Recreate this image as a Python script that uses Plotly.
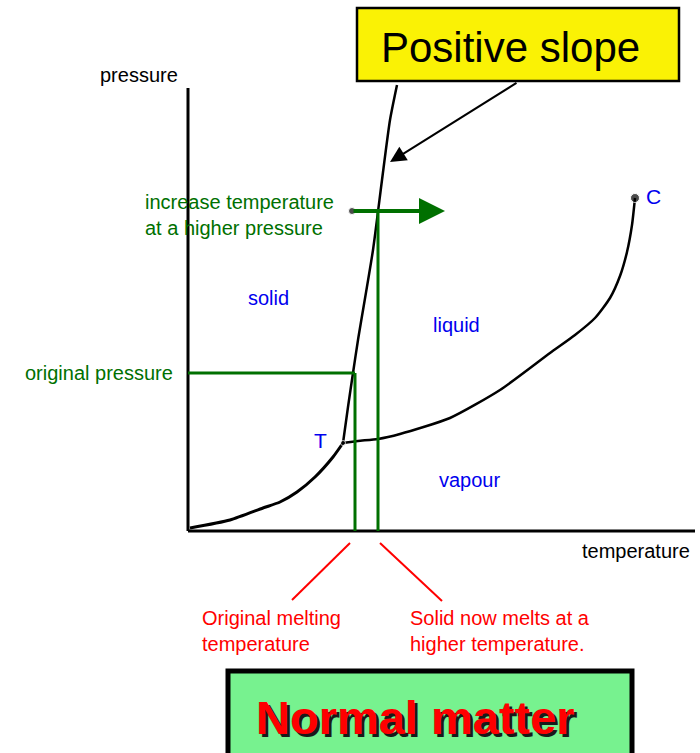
import plotly.graph_objects as go

# ---- data (arbitrary temperature / pressure units, origin at axis corner) ----
sub_T = [2, 42, 75, 92, 109, 127, 145, 155]
sub_P = [3, 11, 23, 29, 39, 54, 74, 88]

melt_T = [155, 160, 165, 170, 185, 194, 202, 209]
melt_P = [88, 124, 158, 191, 281, 351, 411, 446]

vap_T = [155, 170, 190, 212, 262, 312, 362, 387, 407, 422, 432, 439, 444, 447]
vap_P = [88, 90, 92, 97, 113, 141, 178, 196, 213, 233, 255, 279, 306, 333]

triple_point = (155, 88)
critical_point = (447, 333)

orig_pressure = 158
orig_melt_T = 167
high_pressure = 320
new_melt_T = 190
heat_start_T = 164
heat_end_T = 257

axis_T_max = 507
axis_P_max = 443

region_labels = ["solid", "liquid", "vapour"]
region_T = [80, 268, 281]
region_P = [233, 206, 51]

FONT = "Liberation Sans, Arial, sans-serif"
BLACK = "#000000"
GREEN = "#007000"
BLUE = "#0000ee"
RED = "#ff0000"

fig = go.Figure()

def line(x, y, color, width, spline=False):
    fig.add_trace(go.Scatter(x=x, y=y, mode="lines",
                             line=dict(color=color, width=width,
                                       shape="spline" if spline else "linear",
                                       smoothing=0.6 if spline else None),
                             hoverinfo="skip", showlegend=False))

# axes
line([0, 0], [0, axis_P_max], BLACK, 3)
line([0, axis_T_max], [0, 0], BLACK, 3)

# phase boundaries
line(sub_T, sub_P, BLACK, 3, spline=True)
line(melt_T, melt_P, BLACK, 2.5, spline=True)
line(vap_T, vap_P, BLACK, 2.5, spline=True)

# green guide lines
line([0, orig_melt_T], [orig_pressure, orig_pressure], GREEN, 3)
line([orig_melt_T, orig_melt_T], [0, orig_pressure], GREEN, 3)
line([new_melt_T, new_melt_T], [0, high_pressure], GREEN, 3)

# red pointer lines
line([162, 104], [-12, -69], RED, 2)
line([192, 254], [-12, -70], RED, 2)

# dots
fig.add_trace(go.Scatter(x=[critical_point[0], heat_start_T, triple_point[0]],
                         y=[critical_point[1], high_pressure, triple_point[1]],
                         mode="markers",
                         marker=dict(color=BLACK, size=[9, 7, 5]),
                         hoverinfo="skip", showlegend=False))

# green heating arrow
fig.add_annotation(x=heat_end_T, y=high_pressure, ax=heat_start_T, ay=high_pressure,
                   xref="x", yref="y", axref="x", ayref="y", text="",
                   showarrow=True, arrowhead=2, arrowwidth=4, arrowsize=1.3,
                   arrowcolor=GREEN)

# black pointer arrow from the callout box
fig.add_annotation(x=202, y=369, ax=330, ay=449,
                   xref="x", yref="y", axref="x", ayref="y", text="",
                   showarrow=True, arrowhead=2, arrowwidth=2, arrowsize=1.6,
                   arrowcolor=BLACK)

# boxes
fig.add_shape(type="rect", x0=169, x1=491, y0=450, y1=523, xref="x", yref="y",
              fillcolor="#faf205", line=dict(color=BLACK, width=2.5), layer="above")
fig.add_shape(type="rect", x0=40, x1=444, y0=-235, y1=-140, xref="x", yref="y",
              fillcolor="#77f28f", line=dict(color=BLACK, width=5), layer="above")

def text(x, y, s, color, size, xanchor="center", align="center"):
    fig.add_annotation(x=x, y=y, text=s, showarrow=False, xref="x", yref="y",
                       xanchor=xanchor, yanchor="middle", align=align,
                       font=dict(family=FONT, size=size, color=color))

# axis labels
text(-8, 456, "pressure", BLACK, 20, xanchor="right")
text(392, -20, "temperature", BLACK, 20, xanchor="left")

# region labels
for lab, tx, py in zip(region_labels, region_T, region_P):
    text(tx, py, lab, BLUE, 20)
text(132, 91, "T", BLUE, 21)
text(465, 335, "C", BLUE, 21)

# green annotations
text(-13, orig_pressure, "original pressure", GREEN, 20, xanchor="right")
text(-45, 316, "increase temperature<br>at a higher pressure", GREEN, 20,
     xanchor="left", align="left")

# red annotations
text(12, -100, "Original melting<br>temperature", RED, 20, xanchor="left", align="left")
text(220, -100, "Solid now melts at a<br>higher temperature.", RED, 20,
     xanchor="left", align="left")

# callout texts (on top of boxes)
fig.add_annotation(x=322, y=484, text="Positive slope", showarrow=False,
                   xref="x", yref="y", xanchor="center", yanchor="middle",
                   font=dict(family=FONT, size=42, color=BLACK))
fig.add_annotation(x=227, y=-186, text="<b>Normal matter</b>", showarrow=False,
                   xref="x", yref="y", xanchor="center", yanchor="middle",
                   font=dict(family=FONT, size=47, color=RED,
                             shadow="3px 3px 0px #1a1a1a"))

fig.update_layout(
    width=700, height=753,
    margin=dict(l=0, r=0, t=0, b=0),
    paper_bgcolor="white", plot_bgcolor="white",
    xaxis=dict(range=[-188, 512], visible=False, fixedrange=True),
    yaxis=dict(range=[-222, 531], visible=False, fixedrange=True),
    showlegend=False,
)

fig.write_html("out.html", config={"displayModeBar": False},
               post_script="document.body.style.margin='0px';")
